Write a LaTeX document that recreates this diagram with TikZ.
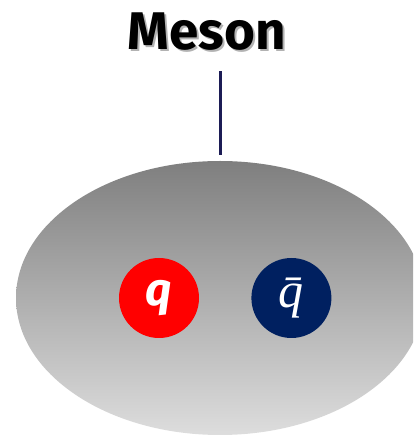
\documentclass[tikz,border=0pt]{standalone}
\usepackage{fontspec}
\setmainfont{Fira Sans}
\newfontfamily\barfont{Liberation Serif}
\usepackage{tikz}
\usetikzlibrary{positioning, shapes.geometric}
\definecolor{QuarkRed}{HTML}{FF0000}
\definecolor{AntiBlue}{HTML}{002060}
\definecolor{StemBlue}{HTML}{1C1C55}
\definecolor{HadTop}{HTML}{7F7F7F}
\definecolor{HadBot}{HTML}{DDDDDD}

\begin{document}
\begin{tikzpicture}[x=1pt, y=1pt,
            quarkball/.style={circle, inner sep=0pt, minimum size=80pt, text=white},
            titletext/.style={font=\fontsize{53}{58}\selectfont\bfseries, inner sep=0pt, anchor=base},
            stem/.style={StemBlue, line width=3pt}
        ]
            \useasboundingbox (0,0) rectangle (413,436);
            \clip (0,0) rectangle (413,436);

            \node[ellipse, minimum width=408pt, minimum height=274pt, inner sep=0pt, top color=HadTop, bottom color=HadBot] (hadron) at (220,138) {};

            \node[quarkball, fill=QuarkRed, font=\fontsize{46}{50}\selectfont\bfseries\itshape] (quark) at (159,138) {q};
            \node[quarkball, fill=AntiBlue, right=52pt of quark, font=\barfont\fontsize{50}{54}\selectfont\itshape] (antiquark) {q^^^^0304};

            \node[titletext, text=black!30] (shadow) at (209,384) {Meson};
            \node[titletext] (title) at (207,386) {Meson};

            \draw[stem] ([yshift=-20pt]title.south -| hadron.north) -- ([yshift=6pt]hadron.north);

        \end{tikzpicture}
\end{document}
